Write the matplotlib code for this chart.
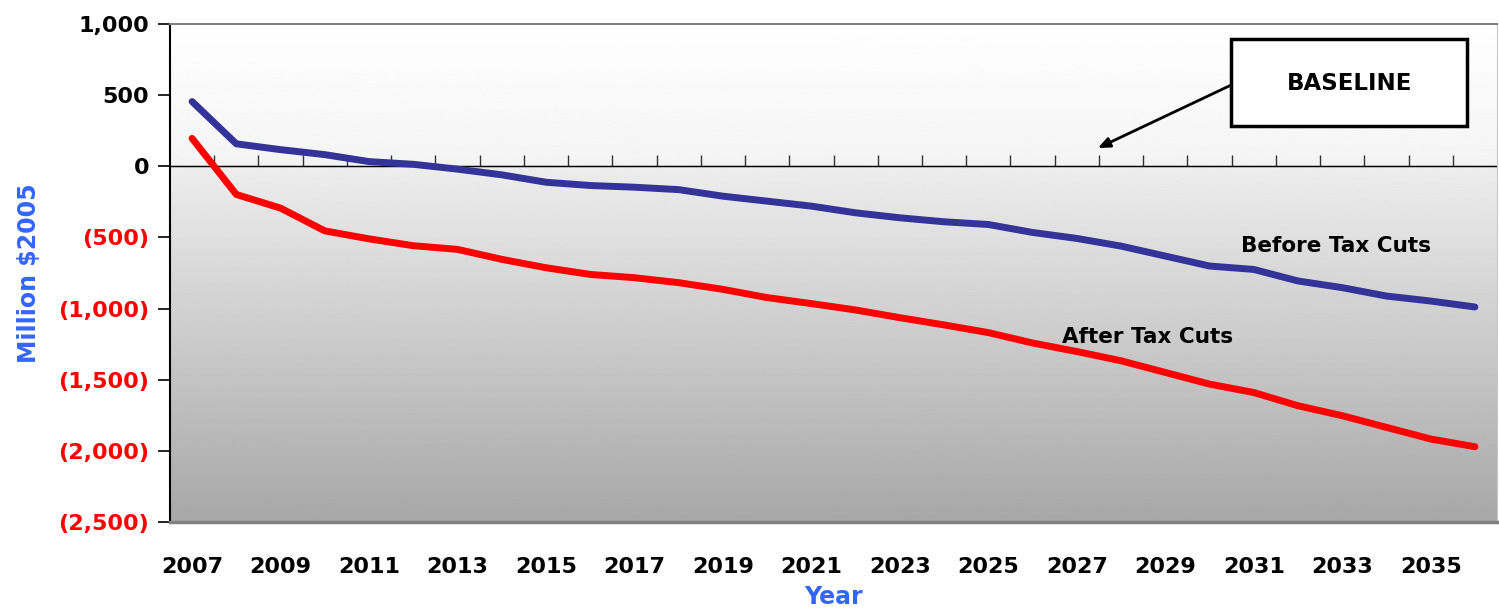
#taxcuts.py
#fiscal balance before and after tax cuts, 2007-2036
import matplotlib.pyplot as plt
import matplotlib.patches as patches
import numpy as np

years = list(range(2007, 2037))

#million $2005
before_cuts = [455, 158, 117, 82, 33, 14, -20, -60, -112, -135, -147, -164, -210, -245, -280,
               -327, -362, -390, -409, -465, -507, -561, -631, -701, -725, -806, -853, -912,
               -947, -989]
after_cuts = [196, -198, -294, -454, -510, -558, -584, -654, -713, -760, -783, -818, -865,
              -923, -965, -1010, -1064, -1115, -1169, -1242, -1302, -1367, -1449, -1531,
              -1590, -1683, -1753, -1835, -1917, -1971]

y_ticks = [1000, 500, 0, -500, -1000, -1500, -2000, -2500]
tick_years = years[::2]

def money(v):
    if v < 0:
        return "({:,})".format(-v)
    return "{:,}".format(v)

fig = plt.figure(figsize=(14.99, 6.13), dpi=100)
ax = fig.add_axes([0.1134, 0.1485, 0.8853, 0.8123])

ymin, ymax = -2500, 1000
n = len(years)
ax.set_xlim(0, n)
ax.set_ylim(ymin, ymax)

#background: almost white above zero, grey fading darker below
top = np.linspace(1.0, 0.955, 64).reshape(-1, 1)
bottom = np.linspace(0.93, 0.655, 256).reshape(-1, 1)
ax.imshow(top, cmap="gray", vmin=0, vmax=1, aspect="auto",
          extent=[0, n, 0, ymax], zorder=0)
ax.imshow(bottom, cmap="gray", vmin=0, vmax=1, aspect="auto",
          extent=[0, n, ymin, 0], zorder=0)

x = np.arange(n) + 0.5
ax.plot(x, before_cuts, color="#333399", lw=5, solid_capstyle="round",
        solid_joinstyle="round", zorder=3)
ax.plot(x, after_cuts, color="#ff0000", lw=5, solid_capstyle="round",
        solid_joinstyle="round", zorder=3)

#zero line with year ticks between categories
ax.axhline(0, color="black", lw=1, zorder=2)
zero_frac = (0 - ymin) / (ymax - ymin)
sec = ax.secondary_xaxis(zero_frac)
sec.set_xticks(np.arange(1, n))
sec.set_xticklabels([])
sec.tick_params(length=8, width=1, direction="out", color="#333333")
sec.spines["bottom"].set_visible(False)

ax.set_xticks([years.index(y) + 0.5 for y in tick_years])
ax.set_xticklabels([str(y) for y in tick_years], fontsize=16, fontweight="bold")
ax.tick_params(axis="x", length=0, pad=25)

ax.set_yticks(y_ticks)
ax.set_yticklabels([money(v) for v in y_ticks], fontsize=16, fontweight="bold")
for lab, v in zip(ax.get_yticklabels(), y_ticks):
    lab.set_color("red" if v < 0 else "black")
ax.tick_params(axis="y", length=9, width=1.2, direction="out", pad=6)

ax.spines["left"].set_color("black")
ax.spines["left"].set_linewidth(1.5)
ax.spines["top"].set_color("#808080")
ax.spines["top"].set_linewidth(1.5)
ax.spines["bottom"].set_color("#808080")
ax.spines["bottom"].set_linewidth(2.5)
ax.spines["right"].set_color("#c8c8c8")

ax.set_ylabel("Million $2005", fontsize=17, fontweight="bold", color="#3366ff", labelpad=12)
ax.set_xlabel("Year", fontsize=17, fontweight="bold", color="#3366ff", labelpad=6)

ax.text(26.36, -560, "Before Tax Cuts", fontsize=15.5, fontweight="bold", ha="center",
        va="center", zorder=4)
ax.text(22.1, -1200, "After Tax Cuts", fontsize=15.5, fontweight="bold", ha="center",
        va="center", zorder=4)

#baseline callout
ax.annotate("", xy=(20.92, 120), xytext=(24.05, 580),
            arrowprops=dict(arrowstyle="-|>,head_length=0.7,head_width=0.3",
                            color="black", lw=2), zorder=4)
ax.add_patch(patches.Rectangle((23.99, 280), 5.33, 618, fc="white", ec="black",
                               lw=2.5, zorder=5))
ax.text(26.66, 585, "BASELINE", fontsize=16.5, fontweight="bold", ha="center", va="center",
        zorder=6)

fig.savefig("out.png", dpi=100)
